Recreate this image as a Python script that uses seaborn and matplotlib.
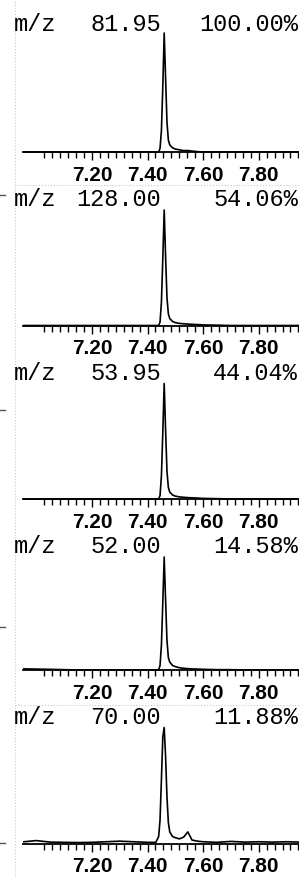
import numpy as np
import pandas as pd
import matplotlib
matplotlib.use("Agg")
import matplotlib.pyplot as plt
import matplotlib.ticker as mticker
import seaborn as sns

# retention time grid (min) shared by all traces
rt = [6.955, 7.00, 7.05, 7.10, 7.15, 7.20, 7.25, 7.30, 7.35, 7.40, 7.43,
      7.440, 7.445, 7.450, 7.455, 7.460, 7.465, 7.470, 7.475, 7.480, 7.490,
      7.500, 7.515, 7.530, 7.545, 7.560, 7.580, 7.60, 7.65, 7.70, 7.75,
      7.80, 7.85, 7.90, 7.945]

# relative intensity of each ion trace (% of its own max)
mz_82 = [0, 0, 0, 0, 0, 0, 0, 0, 0, 0, 0,
         0, 3, 18, 55, 100, 62, 25, 10, 6, 3.5,
         2.5, 1.8, 1.2, 1.2, 0.8, 0.3, 0, 0, 0, 0,
         0, 0, 0, 0]
mz_128 = [0, 0, 0, 0, 0, 0, 0, 0, 0, 0, 0,
          0, 3, 20, 58, 100, 60, 24, 10, 6, 3.5,
          2.5, 1.8, 1.5, 1.2, 1.0, 0.8, 0.5, 0.3, 0, 0,
          0, 0, 0, 0]
mz_54 = [0, 0, 0, 0, 0, 0, 0, 0, 0, 0, 0,
         0, 3, 20, 58, 100, 60, 24, 10, 6, 3.5,
         2.5, 1.8, 1.5, 1.2, 1.0, 0.8, 0.5, 0.3, 0, 0,
         0, 0, 0, 0]
mz_52 = [1.0, 0.8, 0.6, 0.3, 0, 0, 0, 0, 0, 0, 0,
         0, 4, 22, 60, 100, 62, 26, 11, 7, 4,
         3, 2, 1.5, 1.2, 1.0, 0.8, 0.6, 0.3, 0.3, 0,
         0, 0, 0, 0]
mz_70 = [1.5, 2.5, 1.2, 1.0, 0.8, 1.0, 1.5, 2.0, 1.5, 1.0, 1.0,
         6, 20, 55, 92, 100, 75, 40, 18, 10, 6,
         5, 4, 5.5, 10, 3, 2, 1.5, 1.0, 1.8, 1.2,
         1.5, 1.2, 1.5, 1.2]

labels = ["81.95", "128.00", "53.95", "52.00", "70.00"]
percents = ["100.00%", "54.06%", "44.04%", "14.58%", "11.88%"]
traces = [mz_82, mz_128, mz_54, mz_52, mz_70]

df = pd.concat([pd.DataFrame({"rt": rt, "rel": v, "ion": lab})
                for v, lab in zip(traces, labels)], ignore_index=True)

W, H = 299, 877
# panel layout in pixels: (baseline y, top y, title baseline y)
panels = [(152, 33, 31), (325.5, 210, 206), (499, 383.5, 380),
          (670, 557, 553), (843.5, 727.5, 724)]
ax_left, ax_right = 23, 299

fig = plt.figure(figsize=(W / 100, H / 100), dpi=100)
fig.patch.set_facecolor("white")

for lab, pct, (yb, yt, ytitle) in zip(labels, percents, panels):
    ax = fig.add_axes([ax_left / W, 1 - yb / H, (ax_right - ax_left) / W, (yb - yt) / H])
    sub = df[df["ion"] == lab]
    sns.lineplot(data=sub, x="rt", y="rel", ax=ax, color="black", lw=1.2,
                 estimator=None, sort=False, legend=False)
    for ln in ax.lines:
        ln.set_clip_on(False)
    ax.set_xlim(6.952, 7.945)
    ax.set_ylim(0, 100)
    for s in ["left", "top", "right"]:
        ax.spines[s].set_visible(False)
    ax.spines["bottom"].set_linewidth(1.3)
    ax.set_yticks([])
    ax.set_xticks([7.2, 7.4, 7.6, 7.8])
    ax.set_xticklabels(["7.20", "7.40", "7.60", "7.80"],
                       fontfamily="Liberation Sans", fontsize=15, fontweight="bold")
    minor = [k * 0.2 / 7 for k in range(246, 279)]
    ax.xaxis.set_minor_locator(mticker.FixedLocator(minor))
    ax.tick_params(axis="x", which="major", direction="out", length=6, width=1, pad=4)
    ax.tick_params(axis="x", which="minor", direction="out", length=4, width=1)
    ax.set_xlabel("")
    ax.set_ylabel("")
    ax.patch.set_alpha(0)

    ty = 1 - ytitle / H
    fig.text(14 / W, ty, "m/z", family="Liberation Mono", fontsize=17, va="baseline", ha="left")
    fig.text(161 / W, ty, lab, family="Liberation Mono", fontsize=17, va="baseline", ha="right")
    fig.text(298 / W, ty, pct, family="Liberation Mono", fontsize=17, va="baseline", ha="right")

# scan artifacts: faint page border and left marks
fig.add_artist(plt.Line2D([15 / W, 15 / W], [0, 1], color="#c8c8c8", lw=0.8, ls=":"))
for yy in [185, 705]:
    fig.add_artist(plt.Line2D([15 / W, 1], [1 - yy / H] * 2, color="#c8c8c8", lw=0.8, ls=":"))
for yy in [195, 410, 627, 843]:
    fig.add_artist(plt.Line2D([0, 5 / W], [1 - yy / H] * 2, color="#555555", lw=1))

fig.savefig("out.png", dpi=100)
